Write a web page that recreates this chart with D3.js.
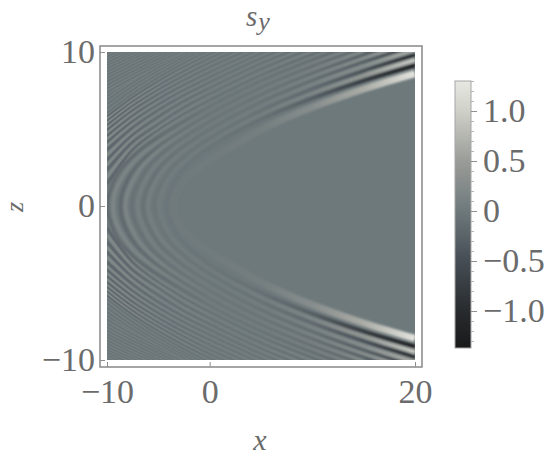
<!DOCTYPE html>
<html>
<head>
<meta charset="utf-8">
<script src="https://cdnjs.cloudflare.com/ajax/libs/d3/7.8.5/d3.min.js"></script>
<style>
html, body { margin: 0; padding: 0; background: #fff; }
text { font-family: "Liberation Serif", "Times New Roman", serif; fill: #6b6b6b; }
</style>
</head>
<body>
<div id="chart"></div>
<script>
const width = 553;
const height = 458;

const xTicks = [-10, 0, 20];
const zTicks = [-10, 0, 10];
const barTicks = [-1, -0.5, 0, 0.5, 1];
const barMinorTicks = d3.range(-13, 14).map(d => d / 10);

// grey levels
const barLevels = [-1.37, -1, -0.5, 0, 0.5, 1, 1.3];
const barColors = ["#191919", "#282b2e", "#454d54", "#6e797c", "#9a9c98", "#cfd0c8", "#e8e8e2"];

const vertexFringes = [
    [[-3.5, 0], [-3, 1.14], [-2, 1.95], [0, 3.0], [2.4, 3.95], [5, 4.95], [8.8, 6.1], [15, 7.6], [20, 8.6]],
    [[-4.2, 0], [-3, 2.03], [0, 3.8], [5, 5.63], [10, 7.0], [15, 8.14], [20, 9.13]],
    [[-4.9, 0], [-4, 1.76], [-2, 3.16], [0, 4.11], [5, 5.92], [10, 7.31], [15, 8.47], [20, 9.48]],
    [[-5.4, 0], [-4, 2.24], [-2, 3.49], [0, 4.4], [5, 6.21], [10, 7.61], [15, 8.78], [20, 9.81]],
    [[-6.0, 0], [-5, 1.91], [-3, 3.31], [0, 4.68], [5, 6.49], [10, 7.9], [15, 9.09], [20, 10.14]],
    [[-6.5, 0], [-5, 2.38], [-3, 3.64], [0, 4.96], [5, 6.75], [10, 8.16], [15, 9.36], [20, 10.42]],
    [[-7.0, 0], [-6, 1.98], [-4, 3.42], [0, 5.23], [5, 6.99], [10, 8.4], [15, 9.59], [20, 10.66]],
    [[-7.6, 0], [-6, 2.52], [-4, 3.78], [0, 5.49], [5, 7.22], [10, 8.61], [15, 9.81], [20, 10.9]],
    [[-8.2, 0], [-7, 2.2], [-5, 3.58], [0, 5.74], [5, 7.46], [10, 8.85], [15, 10.05]],
    [[-8.7, 0], [-8, 1.7], [-6, 3.33], [0, 5.98], [5, 7.67], [10, 9.06], [15, 10.26]],
    [[-9.4, 0], [-9, 1.28], [-7, 3.14], [0, 6.21], [5, 7.89], [10, 9.26], [15, 10.45]],
    [[-10, 0], [-9, 2.03], [-7, 3.52], [0, 6.43], [5, 8.09], [10, 9.47], [15, 10.67]]
];

// fringes that come in through the left edge: z at each of these x columns
const edgeColumns = [-10, -7.5, -5, -2.5, 0, 5, 10, 15];
const edgeFringes = [
    [0.78, 3.39, 4.73, 5.77, 6.65, 8.28, 9.64, 10.8],
    [1.43, 3.64, 4.91, 5.94, 6.86, 8.49, 9.85, 11.05],
    [1.87, 3.89, 5.10, 6.19, 7.07, 8.68, 10.04, 11.2],
    [2.34, 4.14, 5.30, 6.40, 7.27, 8.88, 10.23],
    [2.66, 4.39, 5.54, 6.60, 7.46, 9.06, 10.4],
    [2.99, 4.60, 5.80, 6.79, 7.65, 9.23, 10.6],
    [3.31, 4.85, 6.00, 6.99, 7.83, 9.40, 10.7],
    [3.64, 5.07, 6.22, 7.17, 8.01, 9.57, 10.9],
    [3.90, 5.31, 6.42, 7.36, 8.19, 9.74, 11.1],
    [4.15, 5.51, 6.60, 7.54, 8.36, 9.90, 11.2],
    [4.36, 5.69, 6.77, 7.70, 8.53, 10.07],
    [4.56, 5.87, 6.95, 7.87, 8.69, 10.2],
    [4.75, 6.04, 7.10, 8.02, 8.85, 10.35],
    [4.94, 6.21, 7.26, 8.17, 9.01, 10.5],
    [5.09, 6.36, 7.41, 8.32, 9.16, 10.6],
    [5.23, 6.50, 7.55, 8.48, 9.31, 10.8],
    [5.38, 6.65, 7.69, 8.61, 9.45, 10.9],
    [5.51, 6.77, 7.82, 8.75, 9.59, 11.0],
    [5.65, 6.90, 7.96, 8.89, 9.73, 11.0],
    [5.78, 7.03, 8.09, 9.02, 9.86, 11.1],
    [5.91, 7.15, 8.20, 9.14, 9.99, 11.2],
    [6.03, 7.28, 8.35, 9.30, 10.15],
    [6.18, 7.41, 8.46, 9.39, 10.24],
    [6.32, 7.53, 8.56, 9.49, 10.33],
    [6.47, 7.65, 8.67, 9.58, 10.4],
    [6.60, 7.76, 8.77, 9.67, 10.5],
    [6.74, 7.88, 8.87, 9.77, 10.6],
    [6.87, 7.99, 8.97, 9.86, 10.7],
    [7.00, 8.10, 9.07, 9.95, 10.8],
    [7.13, 8.09, 8.96, 9.74, 10.5],
    [7.25, 8.20, 9.06, 9.83, 10.5],
    [7.38, 8.31, 9.15, 9.92, 10.6],
    [7.50, 8.42, 9.25, 10.01],
    [7.62, 8.53, 9.35, 10.1],
    [7.73, 8.63, 9.44, 10.2],
    [7.85, 8.73, 9.54, 10.3],
    [7.96, 8.84, 9.63, 10.4],
    [8.07, 8.94, 9.73, 10.5],
    [8.19, 9.04, 9.82, 10.5],
    [8.29, 9.14, 9.91, 10.6],
    [8.40, 9.24, 10.0],
    [8.51, 9.33, 10.09],
    [8.61, 9.43, 10.18],
    [8.72, 9.52, 10.27],
    [8.82, 9.62, 10.36],
    [8.92, 9.71, 10.44],
    [9.02, 9.80, 10.5],
    [9.12, 9.89, 10.6],
    [9.22, 9.98, 10.7],
    [9.32, 10.07],
    [9.41, 10.17],
    [9.51, 10.26],
    [9.60, 10.35],
    [9.70, 10.44],
    [9.79, 10.53],
    [9.88, 10.6],
    [9.97, 10.7]
];

// how far |s_y| gets from zero along a fringe, at these x
const contrastColumns = [-10, -5, 0, 5, 10, 15, 20];
const causticContrast = [0.02, 0.02, 0.03, 0.08, 0.28, 0.65, 1.25];
const firstDarkContrast = [0.03, 0.03, 0.05, 0.1, 0.3, 0.75, 1.2];
const nearContrast = [0.05, 0.05, 0.05, 0.08, 0.18, 0.45, 1.0];
const midContrast = [0.09, 0.09, 0.05, 0.07, 0.14, 0.3, 0.7];
const outerContrast = [0.2, 0.15, 0.06, 0.07, 0.12, 0.25, 0.45];
const edgeContrast = [0.2, 0.1, 0.06, 0.06, 0.08, 0.12, 0.15];
const farContrast = [0.07, 0.06, 0.06, 0.06, 0.06, 0.06, 0.06];

const vertexProfiles = [causticContrast, firstDarkContrast, nearContrast, nearContrast,
    midContrast, midContrast, midContrast, midContrast,
    outerContrast, outerContrast, outerContrast, outerContrast];
const vertexWidths = [7, 4, 3.5, 3.5, 3.5, 3.5, 3.5, 3.5, 3.5, 3.5, 3.5, 3.5];

var x = d3.scaleLinear().domain([-10, 20]).range([107, 415]);
var z = d3.scaleLinear().domain([-10, 10]).range([360, 52]);
var barY = d3.scaleLinear().domain([-1.37, 1.3]).range([348, 81]);
var grey = d3.scaleLinear().domain(barLevels).range(barColors);

var svg = d3.select("#chart").append("svg")
    .attr("width", width)
    .attr("height", height)
    .style("display", "block");

var defs = svg.append("defs");

defs.append("clipPath").attr("id", "plotClip")
    .append("rect")
    .attr("x", x(-10)).attr("y", z(10))
    .attr("width", x(20) - x(-10)).attr("height", z(-10) - z(10));

function addBlur(id, amount) {
    defs.append("filter").attr("id", id)
        .attr("filterUnits", "userSpaceOnUse")
        .attr("x", 90).attr("y", 35).attr("width", 345).attr("height", 345)
        .append("feGaussianBlur").attr("stdDeviation", amount);
}
addBlur("softEdge", 0.6);
addBlur("softVertex", 1.1);

var gradCount = 0;
function fringeGradient(profile, sign) {
    var id = "fringe" + (gradCount++);
    var grad = defs.append("linearGradient").attr("id", id)
        .attr("gradientUnits", "userSpaceOnUse")
        .attr("x1", x(-10)).attr("x2", x(20)).attr("y1", 0).attr("y2", 0);
    contrastColumns.forEach((c, i) => {
        grad.append("stop")
            .attr("offset", (c + 10) / 30)
            .attr("stop-color", grey(sign * profile[i]));
    });
    return id;
}

var lineGen = d3.line().x(d => x(d[0])).y(d => z(d[1])).curve(d3.curveCatmullRom.alpha(0.5));

var plot = svg.append("g").attr("clip-path", "url(#plotClip)");
plot.append("rect")
    .attr("x", x(-10)).attr("y", z(10))
    .attr("width", x(20) - x(-10)).attr("height", z(-10) - z(10))
    .attr("fill", grey(0));

var edgeG = plot.append("g").attr("filter", "url(#softEdge)");
var vertexG = plot.append("g").attr("filter", "url(#softVertex)");

function drawFringe(g, f) {
    var mirror = f.pts.map(p => [p[0], -p[1]]);
    var paths;
    if (f.pts[0][1] === 0) {
        paths = [lineGen(mirror.slice().reverse().concat(f.pts.slice(1)))];
    } else {
        paths = [lineGen(f.pts), lineGen(mirror)];
    }
    var id = fringeGradient(f.profile, f.sign);
    paths.forEach(d => {
        g.append("path")
            .attr("d", d)
            .attr("fill", "none")
            .attr("stroke", "url(#" + id + ")")
            .attr("stroke-width", f.w);
    });
}

// light and dark take turns, outermost first so the caustic ends up on top
edgeFringes.slice().reverse().forEach((row, k) => {
    var i = edgeFringes.length - 1 - k;
    var n = vertexFringes.length + i;
    drawFringe(edgeG, {
        pts: row.map((v, j) => [edgeColumns[j], v]),
        profile: i < 20 ? edgeContrast : farContrast,
        w: i < 8 ? 3 : (i < 20 ? 2.2 : 1.6),
        sign: n % 2 ? -1 : 1
    });
});
vertexFringes.slice().reverse().forEach((pts, k) => {
    var i = vertexFringes.length - 1 - k;
    drawFringe(vertexG, { pts: pts, profile: vertexProfiles[i], w: vertexWidths[i], sign: i % 2 ? -1 : 1 });
});

// frame
svg.append("rect")
    .attr("x", 100).attr("y", 46).attr("width", 322).attr("height", 321)
    .attr("fill", "none")
    .attr("stroke", "#8f8f8f")
    .attr("stroke-width", 1.6);

function styleAxis(g, size) {
    g.select(".domain").remove();
    g.selectAll(".tick line").attr("stroke", "#8f8f8f").attr("stroke-width", 1);
    g.selectAll(".tick text").style("font-size", size + "px").attr("fill", "#6b6b6b");
}

var xAxis = d3.axisBottom(x).tickValues(xTicks).tickSize(-5).tickPadding(12).tickFormat(d3.format("d"));
svg.append("g").attr("transform", "translate(0,367)").call(xAxis)
    .call(g => styleAxis(g, 34));

var zAxis = d3.axisLeft(z).tickValues(zTicks).tickSize(-5).tickPadding(5).tickFormat(d3.format("d"));
svg.append("g").attr("transform", "translate(100,0)").call(zAxis)
    .call(g => styleAxis(g, 34));

// legend bar
var barGrad = defs.append("linearGradient").attr("id", "barGrad")
    .attr("x1", 0).attr("x2", 0).attr("y1", 1).attr("y2", 0);
barLevels.forEach((v, i) => {
    barGrad.append("stop")
        .attr("offset", (v + 1.37) / 2.67)
        .attr("stop-color", barColors[i]);
});
svg.append("rect")
    .attr("x", 455).attr("y", barY(1.3))
    .attr("width", 16).attr("height", barY(-1.37) - barY(1.3))
    .attr("fill", "url(#barGrad)")
    .attr("stroke", "#a5a5a5")
    .attr("stroke-width", 1);

var barMinor = d3.axisRight(barY).tickValues(barMinorTicks).tickSize(3).tickFormat("");
svg.append("g").attr("transform", "translate(471,0)").call(barMinor)
    .call(g => {
        g.select(".domain").remove();
        g.selectAll(".tick line").attr("stroke", "#b5b5b5");
    });

var barAxis = d3.axisRight(barY).tickValues(barTicks).tickSize(6).tickPadding(6)
    .tickFormat(d => d === 0 ? "0" : d3.format(".1f")(d));
svg.append("g").attr("transform", "translate(471,0)").call(barAxis)
    .call(g => styleAxis(g, 34));

// titles
var title = svg.append("text")
    .attr("x", 246).attr("y", 26)
    .style("font-size", "29px")
    .style("font-style", "italic");
title.append("tspan").text("s");
title.append("tspan").attr("dy", 4).attr("dx", 1).style("font-size", "26px").text("y");

svg.append("text")
    .attr("x", 260).attr("y", 450)
    .attr("text-anchor", "middle")
    .style("font-size", "30px")
    .style("font-style", "italic")
    .text("x");

svg.append("text")
    .attr("transform", "translate(23,207) rotate(-90)")
    .attr("text-anchor", "middle")
    .style("font-size", "26px")
    .style("font-style", "italic")
    .text("z");
</script>
</body>
</html>
